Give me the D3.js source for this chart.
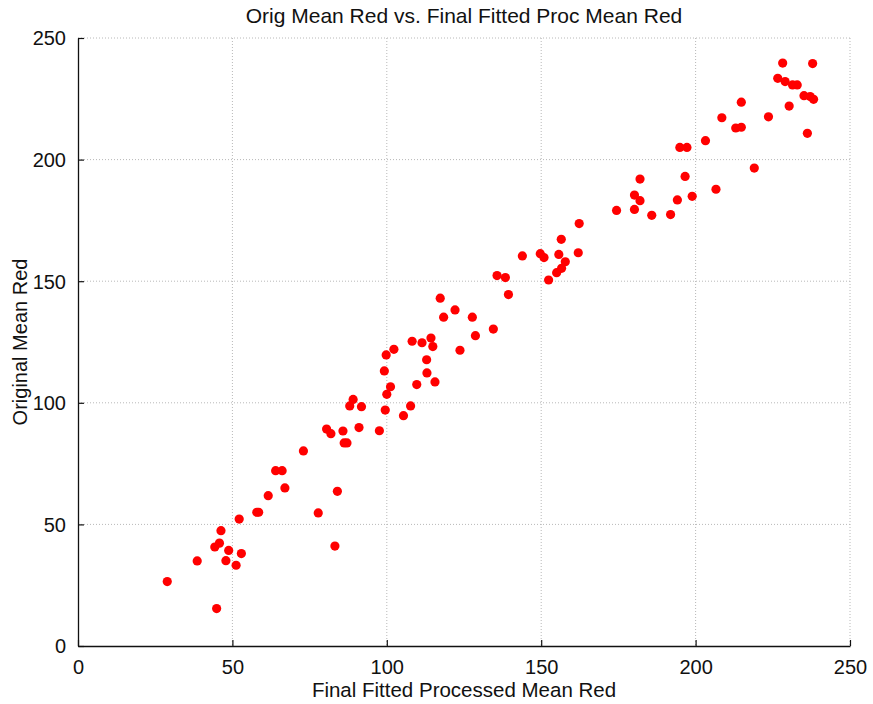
<!DOCTYPE html>
<html>
<head>
<meta charset="utf-8">
<script src="https://cdn.jsdelivr.net/npm/d3@7"></script>
<style>
  html, body { margin: 0; padding: 0; background: #fff; }
  svg { display: block; font-family: "Liberation Sans", Arial, sans-serif; }
</style>
</head>
<body>
<svg id="chart" width="873" height="704"></svg>
<script>
// Final fitted processed mean red (x) against original mean red (y)
const fittedMeanRed = [
  28.9, 38.6, 44.9, 46.3, 44.3, 45.8, 48.8, 47.9, 51.2, 52.9,
  52.2, 57.9, 58.5, 61.6, 64.0, 66.1, 67.0, 73.0, 77.8, 84.0,
  83.2, 80.5, 81.9, 85.8, 86.2, 87.1, 88.0, 89.1, 91.8, 91.0,
  97.6, 99.5, 100.0, 101.2, 99.2, 99.8, 102.3, 105.4, 107.7, 109.7,
  108.2, 111.4, 114.3, 114.9, 112.9, 113.0, 115.6, 117.3, 118.4, 122.1,
  127.7, 128.7, 123.7, 134.5, 135.7, 138.4, 139.4, 143.9, 149.7, 150.9,
  152.4, 155.0, 156.6, 157.8, 155.7, 156.5, 162.0, 162.3, 174.4, 180.2,
  182.0, 180.2, 182.0, 185.8, 191.9, 194.1, 198.9, 196.6, 194.9, 197.2,
  203.2, 206.6, 208.5, 214.8, 213.0, 214.8, 219.0, 223.6, 226.6, 228.2,
  229.0, 231.4, 232.9, 230.3, 235.1, 237.1, 238.2, 237.9, 236.2
];
const originalMeanRed = [
  26.5, 35.0, 15.4, 47.4, 40.7, 42.3, 39.3, 35.1, 33.2, 38.0,
  52.2, 55.0, 55.0, 61.8, 72.1, 72.1, 65.0, 80.2, 54.7, 63.6,
  41.1, 89.2, 87.3, 88.4, 83.5, 83.5, 98.7, 101.4, 98.4, 89.8,
  88.5, 97.0, 103.5, 106.6, 113.1, 119.7, 122.0, 94.7, 98.7, 107.5,
  125.3, 124.7, 126.6, 123.1, 117.7, 112.3, 108.6, 143.0, 135.2, 138.2,
  135.2, 127.6, 121.6, 130.3, 152.3, 151.5, 144.5, 160.4, 161.3, 159.7,
  150.5, 153.5, 155.3, 158.0, 161.0, 167.2, 161.7, 173.7, 179.1, 185.4,
  183.1, 179.5, 192.0, 177.1, 177.4, 183.4, 184.9, 193.1, 205.0, 205.0,
  207.8, 187.8, 217.2, 223.6, 213.0, 213.3, 196.5, 217.6, 233.4, 239.7,
  232.1, 230.7, 230.7, 222.0, 226.3, 225.9, 224.8, 239.5, 210.8
];
const axisTicks = [0, 50, 100, 150, 200, 250];
const titleText = "Orig Mean Red vs. Final Fitted Proc Mean Red";
const xLabelText = "Final Fitted Processed Mean Red";
const yLabelText = "Original Mean Red";

const svg = d3.select("#chart");
const plot = { left: 78, right: 850, top: 38, bottom: 646 };

const x = d3.scaleLinear().domain([0, 250]).range([plot.left, plot.right]);
const y = d3.scaleLinear().domain([0, 250]).range([plot.bottom, plot.top]);

// dotted grid at each tick (skipping the two solid axis lines)
const grid = svg.append("g")
  .attr("stroke", "#b8b8b8")
  .attr("stroke-width", 1)
  .attr("stroke-dasharray", "1,2");
grid.selectAll("line.gx")
  .data(axisTicks.filter(t => t > 0))
  .join("line")
  .attr("x1", d => x(d)).attr("x2", d => x(d))
  .attr("y1", plot.top).attr("y2", plot.bottom);
grid.selectAll("line.gy")
  .data(axisTicks.filter(t => t > 0))
  .join("line")
  .attr("y1", d => y(d)).attr("y2", d => y(d))
  .attr("x1", plot.left).attr("x2", plot.right);

// axes with inward ticks
const xAxis = svg.append("g")
  .attr("transform", `translate(0,${plot.bottom})`)
  .call(d3.axisBottom(x).tickValues(axisTicks).tickSizeInner(-6).tickSizeOuter(0).tickPadding(14));
const yAxis = svg.append("g")
  .attr("transform", `translate(${plot.left},0)`)
  .call(d3.axisLeft(y).tickValues(axisTicks).tickSizeInner(-6).tickSizeOuter(0).tickPadding(12));

[xAxis, yAxis].forEach(a => {
  a.select(".domain").attr("stroke", "#111").attr("stroke-width", 1.3);
  a.selectAll(".tick line").attr("stroke", "#111").attr("stroke-width", 1.2);
  a.selectAll(".tick text")
    .attr("fill", "#111")
    .style("font-size", "20px")
    .style("font-family", "'Liberation Sans', Arial, sans-serif");
});
xAxis.selectAll(".tick text").attr("dy", "0.71em");
yAxis.selectAll(".tick text").attr("dy", "0.34em");

// markers
svg.append("g")
  .selectAll("circle")
  .data(fittedMeanRed.map((v, i) => [v, originalMeanRed[i]]))
  .join("circle")
  .attr("cx", d => x(d[0]))
  .attr("cy", d => y(d[1]))
  .attr("r", 4.6)
  .attr("fill", "#ff0000");

// title and axis labels
svg.append("text")
  .attr("x", (plot.left + plot.right) / 2)
  .attr("y", 23)
  .attr("text-anchor", "middle")
  .attr("fill", "#111")
  .style("font-size", "21px")
  .text(titleText);

svg.append("text")
  .attr("x", (plot.left + plot.right) / 2)
  .attr("y", 697)
  .attr("text-anchor", "middle")
  .attr("fill", "#111")
  .style("font-size", "20.5px")
  .text(xLabelText);

svg.append("text")
  .attr("transform", `translate(27,${(plot.top + plot.bottom) / 2}) rotate(-90)`)
  .attr("text-anchor", "middle")
  .attr("fill", "#111")
  .style("font-size", "20px")
  .text(yLabelText);
</script>
</body>
</html>
